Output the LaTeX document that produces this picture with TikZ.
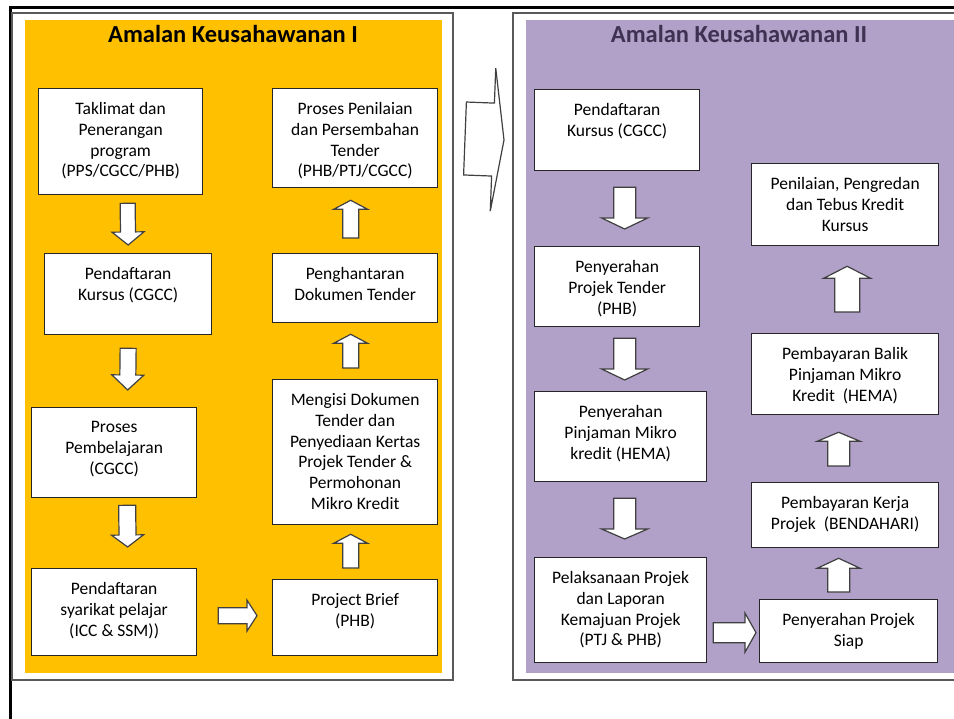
\documentclass[tikz,border=0pt]{standalone}
\usepackage{fontspec}
\setmainfont{Carlito}
\usetikzlibrary{calc}

\definecolor{amberbg}{HTML}{FFC000}
\definecolor{lilacbg}{HTML}{B1A0C7}
\definecolor{plumtext}{HTML}{3F3151}
\definecolor{boxline}{HTML}{262626}
\definecolor{arrline}{HTML}{404040}
\definecolor{frameline}{HTML}{595959}

\newcommand\boxfont{\fontsize{17.5}{20.7}\selectfont}
% block arrow: from anchor + offset, to anchor + offset, shaft half width, head half width, head length
\newcommand\barrow[9]{%
  \coordinate (bt) at ($(#1)+(#2,#3)$);
  \coordinate (bp) at ($(#4)+(#5,#6)$);
  \coordinate (bh) at ($(bp)!#9pt!(bt)$);
  \draw[blockarr] ($(bt)!#7pt!90:(bp)$) -- ($(bh)!#7pt!90:(bp)$) -- ($(bh)!#8pt!90:(bp)$) -- (bp)
    -- ($(bh)!#8pt!-90:(bp)$) -- ($(bh)!#7pt!-90:(bp)$) -- ($(bt)!#7pt!-90:(bp)$) -- cycle;}

\begin{document}
\begin{tikzpicture}[x=1pt,y=-1pt,
    stage/.style 2 args={draw=boxline, line width=1.3pt, fill=white, anchor=north west, inner sep=0pt,
        execute at begin node={\begin{minipage}[c][#2pt][t]{#1pt}\centering\boxfont\vspace*{14pt}},
        execute at end node={\end{minipage}}},
    blockarr/.style={draw=arrline, fill=white, line width=1.2pt, line join=miter},
    heading/.style={anchor=base, font=\fontsize{24.5}{28}\selectfont\bfseries}]
    \useasboundingbox (0,0) rectangle (954,719);
    \fill[white] (0,0) rectangle (954,719);
    \clip (0,0) rectangle (954,719);

    % outer frame
    \draw[line width=3pt] (10,719) -- (10,8) -- (954,8);

    % panels
    \draw[frameline, line width=1.2pt] (12,13) rectangle (453,680);
    \fill[amberbg] (25,20) rectangle (442,673);
    \draw[frameline, line width=1.2pt] (513,13) rectangle (970,680);
    \fill[lilacbg] (526,20) rectangle (954,673);

    \node[heading] (ttlA) at (233,43) {Amalan Keusahawanan I};
    \node[heading, text=plumtext] (ttlB) at (739,43) {Amalan Keusahawanan II};

    % Amalan Keusahawanan I
    \node[stage={164}{106}] (a1) at (38,88) {Taklimat dan\\Penerangan\\program\\(PPS/CGCC/PHB)};
    \node[stage={167}{81}] (a2) at (44,253) {Pendaftaran\\Kursus (CGCC)};
    \node[stage={165}{90}] (a3) at (31,407) {Proses\\Pembelajaran\\(CGCC)};
    \node[stage={165}{87}] (a4) at (31,568) {Pendaftaran\\syarikat pelajar\\(ICC \& SSM))};
    \node[stage={165}{76}] (p4) at (272,579) {Project Brief\\(PHB)};
    \node[stage={165}{145}] (p3) at (272,379) {Mengisi Dokumen\\Tender dan\\Penyediaan Kertas\\Projek Tender \&\\Permohonan\\Mikro Kredit};
    \node[stage={165}{69}] (p2) at (272,253) {Penghantaran\\Dokumen Tender};
    \node[stage={165}{99}] (p1) at (272,88) {Proses Penilaian\\dan Persembahan\\Tender\\(PHB/PTJ/CGCC)};

    % Amalan Keusahawanan II
    \node[stage={165}{81}] (b1) at (534,89) {Pendaftaran\\Kursus (CGCC)};
    \node[stage={165}{80}] (b2) at (534,246) {Penyerahan\\Projek Tender\\(PHB)};
    \node[stage={172}{90}] (b3) at (534,391) {Penyerahan\\Pinjaman Mikro\\kredit (HEMA)};
    \node[stage={172}{105}] (b4) at (534,557) {Pelaksanaan Projek\\dan Laporan\\Kemajuan Projek\\(PTJ \& PHB)};
    \node[stage={178}{63}] (c4) at (759,599) {Penyerahan Projek\\Siap};
    \node[stage={187}{65}] (c3) at (751,482) {Pembayaran Kerja\\Projek~ (BENDAHARI)};
    \node[stage={187}{81}] (c2) at (751,333) {Pembayaran Balik\\Pinjaman Mikro\\Kredit~ (HEMA)};
    \node[stage={187}{82}] (c1) at (751,163) {Penilaian, Pengredan\\dan Tebus Kredit\\Kursus};

    \foreach \fa/\fx/\fy/\ta/\tx/\ty/\sw/\hw/\hl in {
        a1.south/7/8/a2.north/0/-8/7.5/16/13,
        a2.south/0/13/a3.north/13.5/-17/8/16/15,
        a3.south/13/7/a4.north/13.5/-21/8.5/16/12,
        a4.east/21/3.5/p4.west/-15/-2/8/15.5/10,
        p4.north/-4.5/-11/p3.south/-4.5/9/8/17/9,
        p3.north/-4.5/-11/p2.south/-4.5/11/8/17/9,
        p2.north/-4.5/-15/p1.south/-4.5/12/8/17/9,
        b1.south/7.5/16/b2.north/7.5/-17/11/23/11,
        b2.south/7.5/11/b3.north/4/-11/11/23/11,
        b3.south/4/16/b4.north/4/-18/11/23/10,
        b4.east/6/22.5/c4.west/-3/1.5/10/19.5/11,
        c4.north/-10/-7/c3.south/-6.5/10/11/21.5/10,
        c3.north/-6.5/-16/c2.south/-6.5/17/11/21.5/9,
        c2.north/2/-21/c1.south/2/20/12.5/23.5/12}
    {\barrow{\fa}{\fx}{\fy}{\ta}{\tx}{\ty}{\sw}{\hw}{\hl}}

    % between the two panels
    \coordinate (gapL) at (465,138.5);
    \coordinate (gapR) at (504,140);
    \barrow{gapL}{0}{0}{gapR}{0}{0}{36.5}{71.5}{11}
\end{tikzpicture}
\end{document}
